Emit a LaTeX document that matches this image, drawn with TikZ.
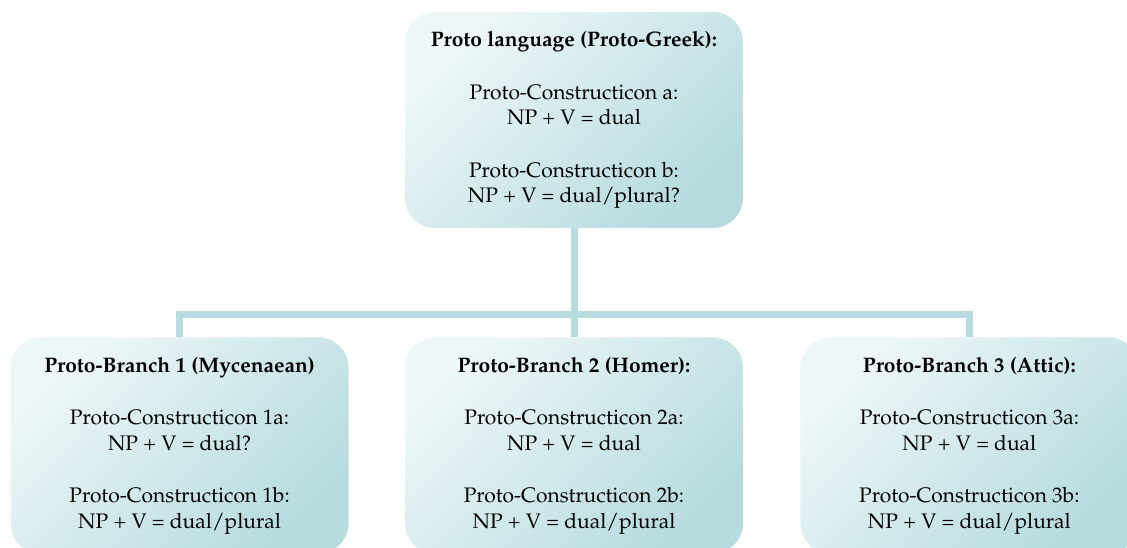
\documentclass[tikz,border=0pt]{standalone}
\usepackage[T1]{fontenc}
\usepackage{mathpazo}
\usetikzlibrary{positioning}
\definecolor{boxlight}{HTML}{EEF7F8}
\definecolor{boxmid}{HTML}{E0F0F2}
\definecolor{boxdark}{HTML}{B6DBDF}
\definecolor{linkcol}{HTML}{B7DCE0}
\tikzset{
  protobox/.style={rounded corners=30pt, minimum width=338pt, minimum height=216pt,
    top color=boxlight, middle color=boxmid, bottom color=boxdark, shading angle=45,
    align=center, inner sep=0pt, font=\fontsize{21}{25.5}\selectfont},
  link/.style={draw=linkcol, line width=7pt}
}
\begin{document}
\begin{tikzpicture}[x=1pt,y=1pt]
\path[use as bounding box, clip] (0,0) rectangle (1127,548);
% parent language
\node[protobox] (proto) at (574,428) {\textbf{Proto language (Proto-Greek):}\\[27pt]
  Proto-Constructicon a:\\ NP + V = dual\\[27pt]
  Proto-Constructicon b:\\ NP + V = dual/plural?};
% branches
\node[protobox, below=109pt of proto] (homer) {\textbf{Proto-Branch 2 (Homer):}\\[27pt]
  Proto-Constructicon 2a:\\ NP + V = dual\\[27pt]
  Proto-Constructicon 2b:\\ NP + V = dual/plural};
\node[protobox, left=56pt of homer] (mycen) {\textbf{Proto-Branch 1 (Mycenaean)}\\[27pt]
  Proto-Constructicon 1a:\\ NP + V = dual?\\[27pt]
  Proto-Constructicon 1b:\\ NP + V = dual/plural};
\node[protobox, right=57pt of homer] (attic) {\textbf{Proto-Branch 3 (Attic):}\\[27pt]
  Proto-Constructicon 3a:\\ NP + V = dual\\[27pt]
  Proto-Constructicon 3b:\\ NP + V = dual/plural};
% tree lines
\coordinate (fork) at (574,233);
\draw[link] (proto.south) -- (fork);
\draw[link] (mycen.north) |- (fork) -| (attic.north);
\draw[link] (homer.north) -- (fork);
\end{tikzpicture}
\end{document}
